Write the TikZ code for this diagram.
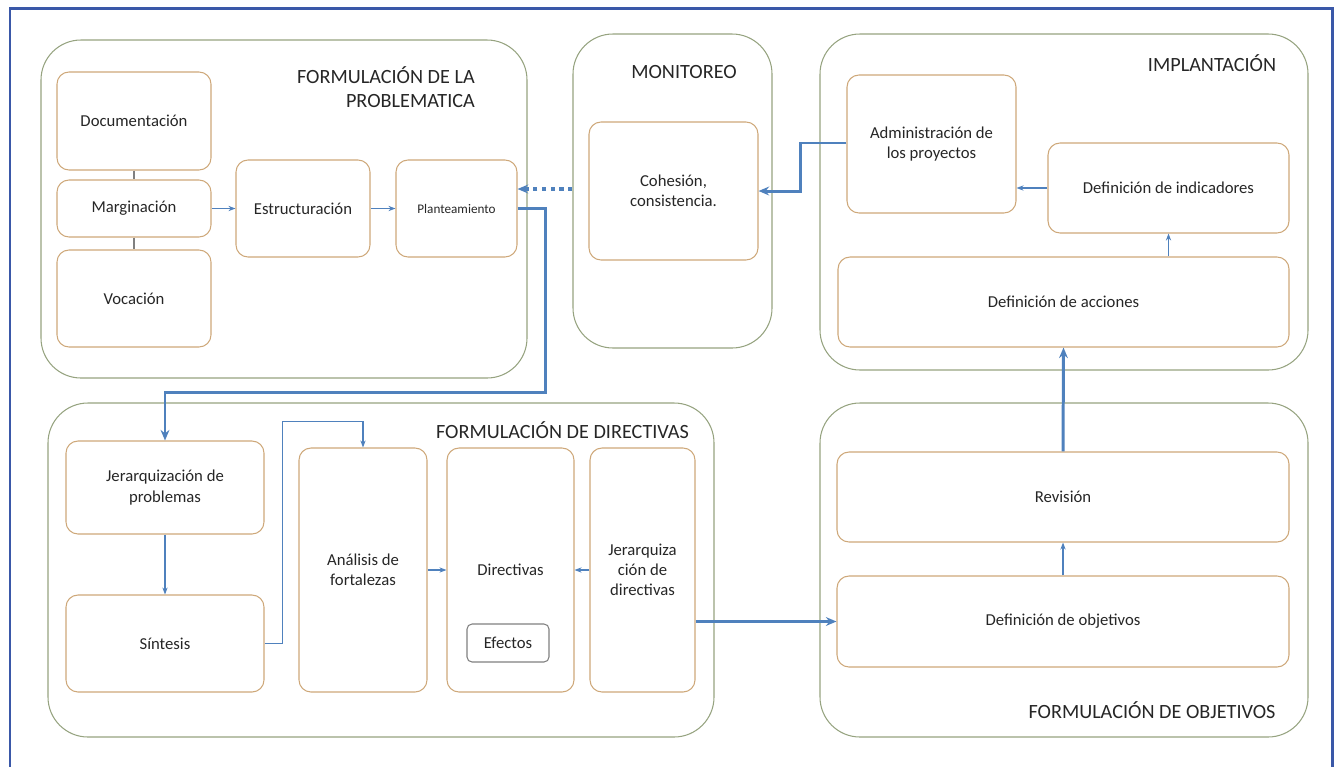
\documentclass[tikz,border=0pt]{standalone}
\usepackage{fontspec}
\setmainfont{Carlito}
\usepackage{xcolor}
\usepackage{tikz}
\usetikzlibrary{arrows.meta,positioning}
\definecolor{grpline}{RGB}{150,163,128}
\definecolor{boxline}{RGB}{206,168,122}
\definecolor{arrowblue}{RGB}{79,129,189}
\definecolor{frameblue}{RGB}{58,88,168}
\definecolor{txt}{RGB}{38,38,38}

\begin{document}
\begin{tikzpicture}[
    grp/.style={draw=grpline,line width=0.6pt,rounded corners=0.8cm},
    box/.style={draw=boxline,line width=0.6pt,rounded corners=0.24cm,align=center,
                text=txt,font=\fontsize{9.5}{11.5}\selectfont},
    ttl/.style={text=txt,font=\fontsize{11.5}{13.5}\selectfont},
    thin/.style={arrowblue,line width=0.6pt,-{Stealth[length=4pt,width=3pt]}},
    thick/.style={arrowblue,line width=1.7pt,-{Stealth[length=6pt,width=5pt]}}]
        \useasboundingbox (0,0) rectangle (26.8,-15.32);
        % frame
        \draw[frameblue,line width=1.7pt] (0.2,-15.4) -- (0.2,-0.17) -- (26.64,-0.17) -- (26.64,-15.4);
        % groups
        \node[grp,minimum width=9.72cm,minimum height=6.76cm] (gprob) at (5.68,-4.18) {};
        \node[grp,minimum width=3.98cm,minimum height=6.28cm] (gmon) at (13.45,-3.82) {};
        \node[grp,minimum width=9.76cm,minimum height=6.72cm] (gimp) at (21.28,-4.04) {};
        \node[grp,minimum width=13.32cm,minimum height=6.68cm] (gdir) at (7.62,-11.4) {};
        \node[grp,minimum width=9.76cm,minimum height=6.68cm] (gobj) at (21.28,-11.4) {};
        % titles
        \node[ttl,align=right,anchor=east] (tprob) at (9.62,-1.74) {FORMULACIÓN DE LA\\PROBLEMATICA};
        \node[ttl] (tmon) at (13.68,-1.44) {MONITOREO};
        \node[ttl] (timp) at (24.24,-1.26) {IMPLANTACIÓN};
        \node[ttl] (tdir) at (11.25,-8.6) {FORMULACIÓN DE DIRECTIVAS};
        \node[ttl] (tobj) at (23.04,-14.2) {FORMULACIÓN DE OBJETIVOS};
        % problematica
        \node[box,minimum width=3.08cm,minimum height=1.96cm] (doc) at (2.68,-2.42) {Documentación};
        \node[box,minimum width=3.08cm,minimum height=1.14cm] (marg) at (2.68,-4.17) {Marginación};
        \node[box,minimum width=3.08cm,minimum height=1.94cm] (voc) at (2.68,-5.97) {Vocación};
        \node[box,minimum width=2.68cm,minimum height=1.94cm] (estr) at (6.06,-4.17) {Estructuración};
        \node[box,minimum width=2.42cm,minimum height=1.94cm,font=\fontsize{7.5}{9}\selectfont] (plant) at (9.13,-4.17) {Planteamiento};
        % monitoreo
        \node[box,minimum width=3.38cm,minimum height=2.76cm] (coh) at (13.47,-3.82) {Cohesión,\\consistencia.};
        % implantacion
        \node[box,minimum width=3.38cm,minimum height=2.76cm] (adm) at (18.63,-2.88) {Administración de\\los proyectos};
        \node[box,minimum width=4.82cm,minimum height=1.8cm] (ind) at (23.37,-3.76) {Definición de indicadores};
        \node[box,minimum width=9.02cm,minimum height=1.8cm] (acc) at (21.27,-6.04) {Definición de acciones};
        % directivas
        \node[box,minimum width=3.96cm,minimum height=1.86cm] (jprob) at (3.3,-9.75) {Jerarquización de\\problemas};
        \node[box,minimum width=3.96cm,minimum height=1.94cm] (sint) at (3.3,-12.87) {Síntesis};
        \node[box,minimum width=2.56cm,minimum height=4.88cm] (anal) at (7.26,-11.4) {Análisis de\\fortalezas};
        \node[box,minimum width=2.54cm,minimum height=4.88cm] (dirv) at (10.21,-11.4) {Directivas};
        \node[box,minimum width=2.1cm,minimum height=4.88cm] (jdir) at (12.85,-11.4) {Jerarquiza\\ción de\\directivas};
        \node[box,draw=gray,rounded corners=0.1cm,minimum width=1.64cm,minimum height=0.76cm] (efec) at (10.16,-12.86) {Efectos};
        % objetivos
        \node[box,minimum width=9.04cm,minimum height=1.8cm] (rev) at (21.26,-9.94) {Revisión};
        \node[box,minimum width=9.04cm,minimum height=1.82cm] (defobj) at (21.26,-12.43) {Definición de objetivos};
        % links
        \draw[gray,line width=0.8pt] (doc) -- (marg);
        \draw[gray,line width=0.8pt] (marg) -- (voc);
        \draw[thin] (marg) -- (estr);
        \draw[thin] (estr) -- (plant);
        \draw[arrowblue,line width=2.2pt,dash pattern=on 2.5pt off 2.5pt,-{Stealth[length=6pt,width=5pt]}] ([yshift=0.04cm]gmon.west) -- ([yshift=0.04cm]gmon.west -| plant.east);
        \draw[thick] ([yshift=0.02cm]adm.west) -- ++(-0.92,0) |- (coh.east);
        \draw[thin] (ind.west) -- (ind.west -| adm.east);
        \draw[thin] (acc.north -| ind.south) -- (ind.south);
        \draw[thick] (rev.north) -- (acc.south);
        \draw[thin] (defobj.north) -- (rev.south);
        \draw[thick] (jdir.east |- defobj.west) -- (defobj.west);
        \draw[thick] (plant.east) -- ++(0.56,0) |- ([yshift=0.96cm]jprob.north) -- (jprob.north);
        \draw[thin] (jprob.south) -- (sint.north);
        \draw[thin] (sint.east) -- ++(0.36,0) |- ([yshift=0.52cm]anal.north) -- (anal.north);
        \draw[thin] (anal.east |- dirv.west) -- (dirv.west);
        \draw[thin] (jdir.west) -- (dirv.east);
\end{tikzpicture}
\end{document}
